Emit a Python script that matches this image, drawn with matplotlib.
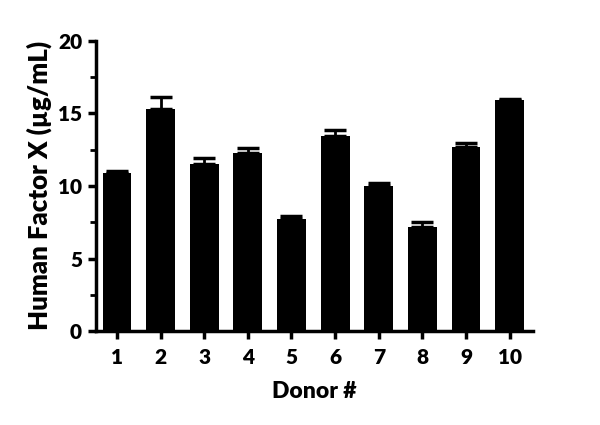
import matplotlib
matplotlib.use("Agg")
import matplotlib.pyplot as plt
from matplotlib.ticker import MultipleLocator

donors = ["1", "2", "3", "4", "5", "6", "7", "8", "9", "10"]
means = [10.9, 15.3, 11.5, 12.3, 7.75, 13.45, 10.0, 7.2, 12.7, 15.9]
errs = [0.1, 0.8, 0.4, 0.3, 0.2, 0.4, 0.2, 0.3, 0.25, 0.1]

plt.rcParams['font.family'] = ['Lato', 'DejaVu Sans']
plt.rcParams['font.weight'] = 'heavy'

fig = plt.figure(figsize=(6, 4.25), dpi=100)
ax = fig.add_axes([0.16, 0.221, 0.728, 0.683])

x = list(range(1, len(donors) + 1))
ax.bar(x, means, width=0.66, color='black', zorder=2)
ax.errorbar(x, means, yerr=[[0]*len(errs), errs], fmt='none', ecolor='black',
            elinewidth=2, capsize=8, capthick=2.5, zorder=3)

ax.set_xlim(0.52, 10.53)
ax.set_ylim(0, 20)
ax.set_xticks(x)
ax.set_xticklabels(donors)
ax.yaxis.set_major_locator(MultipleLocator(5))
ax.yaxis.set_minor_locator(MultipleLocator(2.5))

for s in ['top', 'right']:
    ax.spines[s].set_visible(False)
for s in ['left', 'bottom']:
    ax.spines[s].set_linewidth(2.5)

ax.tick_params(axis='both', which='major', length=6, width=2.5, labelsize=15, pad=4)
ax.tick_params(axis='x', which='major', pad=6)
ax.tick_params(axis='y', which='minor', length=4, width=2)
ax.set_xlabel("Donor #", fontsize=16.5, fontweight='heavy', labelpad=10)
ax.set_ylabel("Human Factor X (µg/mL)", fontsize=18.5, fontweight='heavy', labelpad=4)

fig.savefig("out.png", dpi=100, facecolor='white')
